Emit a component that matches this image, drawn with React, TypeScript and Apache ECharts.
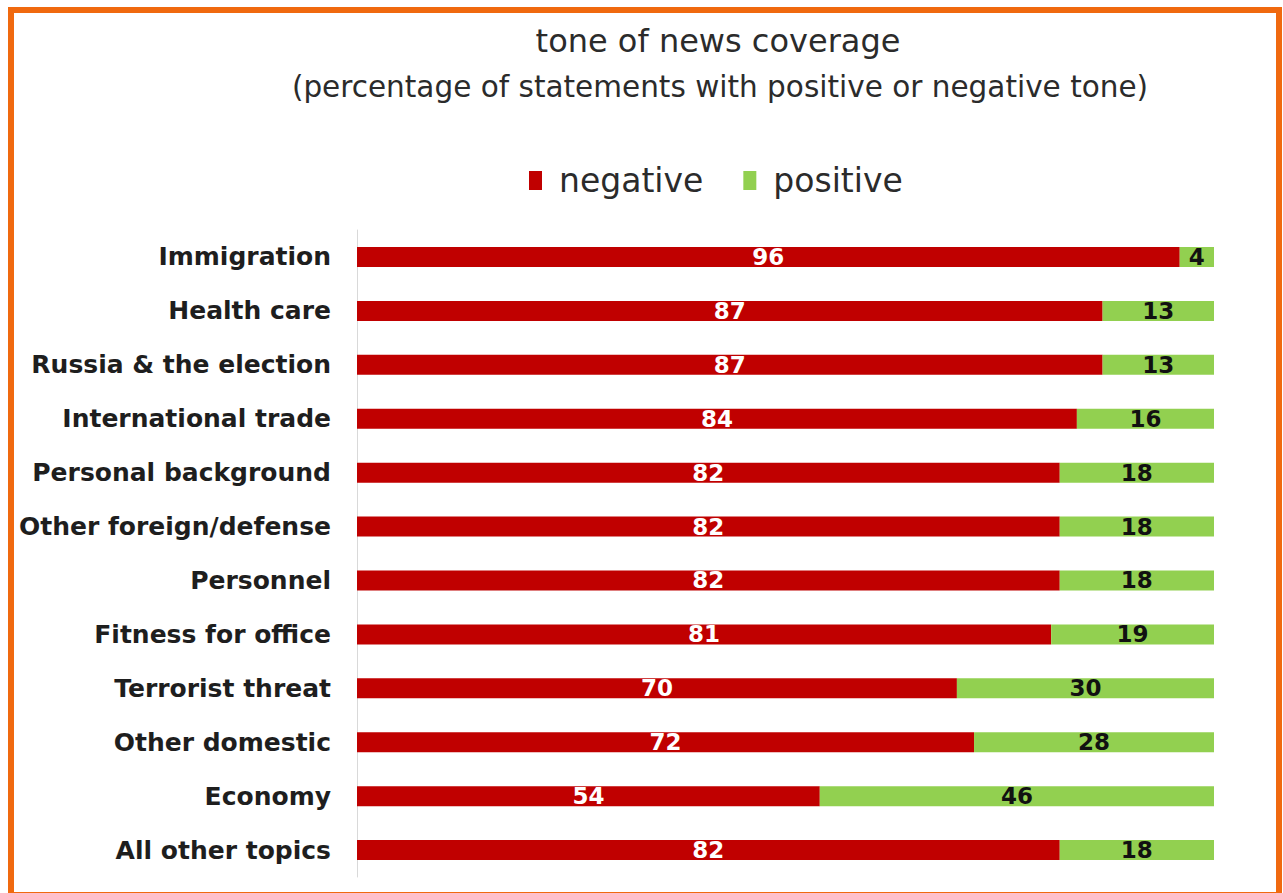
import React, { useEffect, useRef } from "react";
import * as echarts from "echarts";

const categories = [
  "Immigration",
  "Health care",
  "Russia & the election",
  "International trade",
  "Personal background",
  "Other foreign/defense",
  "Personnel",
  "Fitness for office",
  "Terrorist threat",
  "Other domestic",
  "Economy",
  "All other topics",
];
const negative = [96, 87, 87, 84, 82, 82, 82, 81, 70, 72, 54, 82];
const positive = [4, 13, 13, 16, 18, 18, 18, 19, 30, 28, 46, 18];

const TITLE = "tone of news coverage";
const SUBTITLE = "(percentage of statements with positive or negative tone)";

export default function App() {
  const ref = useRef<HTMLDivElement>(null);
  useEffect(() => {
    if (!ref.current) return;
    const chart = echarts.init(ref.current, null, { renderer: "svg" });
    chart.setOption({
      animation: false,
      backgroundColor: "#ffffff",
      title: [
        {
          text: TITLE,
          left: 713,
          textAlign: "center",
          top: 20,
          textStyle: { fontFamily: "DejaVu Sans", fontWeight: "normal", fontSize: 32, color: "#2b2b2b" },
        },
        {
          text: SUBTITLE,
          left: 715,
          textAlign: "center",
          top: 67,
          textStyle: { fontFamily: "DejaVu Sans", fontWeight: "normal", fontSize: 29.5, color: "#2b2b2b" },
        },
      ],
      legend: {
        top: 159,
        left: 524,
        itemWidth: 13,
        itemHeight: 19,
        itemGap: 40,
        icon: "rect",
        textStyle: { fontFamily: "DejaVu Sans", fontSize: 33, color: "#2b2b2b", padding: [0, 0, 0, 12] },
        data: ["negative", "positive"],
      },
      grid: { left: 357, right: 69, top: 230, bottom: 16 },
      xAxis: {
        type: "value",
        min: 0,
        max: 100,
        show: false,
      },
      yAxis: {
        type: "category",
        inverse: true,
        data: categories,
        axisLine: { show: true, lineStyle: { color: "#d9d9d9", width: 1 } },
        axisTick: { show: false },
        axisLabel: {
          margin: 26,
          fontFamily: "DejaVu Sans",
          fontWeight: "bold",
          fontSize: 25,
          color: "#1e1e1e",
        },
      },
      series: [
        {
          name: "negative",
          type: "bar",
          stack: "tone",
          data: negative,
          barWidth: 20,
          itemStyle: { color: "#C00000" },
          label: {
            show: true,
            position: "inside",
            color: "#ffffff",
            fontFamily: "DejaVu Sans",
            fontWeight: "bold",
            fontSize: 23,
          },
        },
        {
          name: "positive",
          type: "bar",
          stack: "tone",
          data: positive,
          barWidth: 20,
          itemStyle: { color: "#92D050" },
          label: {
            show: true,
            position: "inside",
            color: "#111",
            fontFamily: "DejaVu Sans",
            fontWeight: "bold",
            fontSize: 23,
          },
        },
      ],
      graphic: [
        {
          type: "rect",
          shape: { x: 11, y: 10, width: 1268, height: 885 },
          style: { fill: "none", stroke: "#F0690F", lineWidth: 6 },
          silent: true,
        },
      ],
    });
    return () => chart.dispose();
  }, []);
  return (
    <div
      ref={ref}
      style={{ position: "fixed", left: 0, top: 0, width: 1283, height: 893, background: "#fff" }}
    />
  );
}
